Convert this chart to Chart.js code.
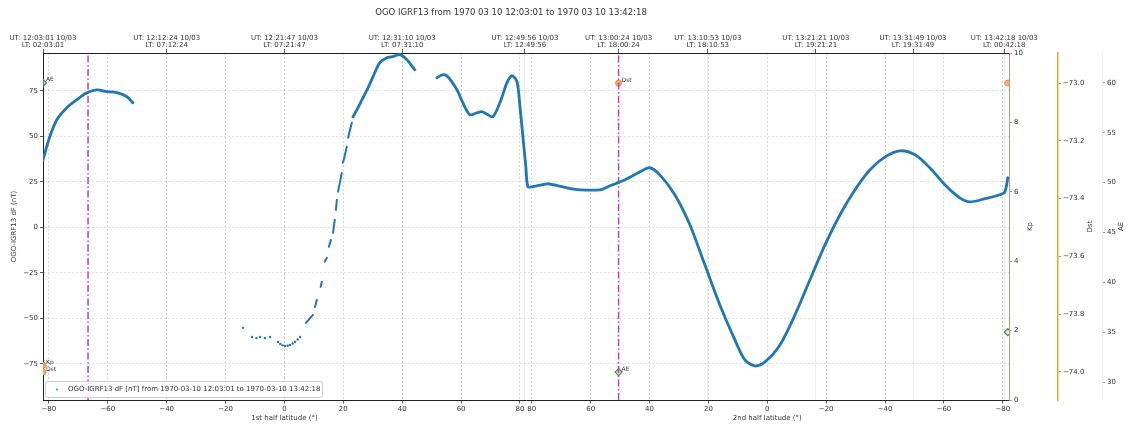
<!DOCTYPE html>
<html>
<head>
<meta charset="utf-8">
<script src="https://cdn.jsdelivr.net/npm/chart.js@4.4.1/dist/chart.umd.min.js"></script>
<style>
  html, body { margin: 0; padding: 0; background: #ffffff; }
  #wrap { width: 1133px; height: 426px; }
</style>
</head>
<body>
<div id="wrap"><canvas id="c" width="1133" height="426"></canvas></div>
<script>
// ---- text ----
const TITLE = 'OGO IGRF13 from 1970 03 10 12:03:01 to 1970 03 10 13:42:18';
const LEGEND_LABEL = 'OGO-IGRF13 dF [nT] from 1970-03-10 12:03:01 to 1970-03-10 13:42:18';
const Y_TITLE = 'OGO-IGRF13 dF (nT)';
const X_TITLE_1 = '1st half latitude (\u00b0)';
const X_TITLE_2 = '2nd half latitude (\u00b0)';

// Orbit position along the pass: on the first half it equals the latitude,
// on the second half it is 164 - latitude (the pass folds back at the pole).
const POS_MIN = -82.0;
const POS_MAX = 246.1;

// ---- dF samples (position, nT) ----
// first arc, southern high latitudes
const pos1 = [-82.0, -79.7, -77.3, -73.9, -70.5, -67.1, -63.7, -60.3, -56.9, -53.5, -51.5];
const df1  = [ 37.1,  49.7,  59.1,  65.7,  70.1,  73.9,  75.5,  74.5,  73.9,  71.7,  68.4];

// isolated samples near the equator
const pos2 = [-14.1, -11.0, -9.5, -8.3, -6.6, -4.9, -2.2, -1.4, -0.6, 0.2, 1.1, 1.9, 2.8, 3.6, 4.5, 5.3];
const df2  = [-55.2, -60.2, -60.8, -60.2, -60.8, -60.2, -62.9, -64.0, -64.8, -65.1, -65.0, -64.6, -63.8, -62.9, -61.6, -60.2];

// broken track on the climb (null = data gap)
const pos3 = [7.3, 9.7, null, 10.4, 11.0, null, 12.3, 12.7, null, 13.7, 14.4, null, 15.1, 15.8, null, 16.5, 17.1, null, 17.5, 17.8, null, 18.2, 19.5, null, 19.9, 21.2, null, 21.6, 22.9];
const df3  = [-52.5, -48.1, null, -43.7, -39.8, null, -32.7, -29.9, null, -18.9, -16.8, null, -10.7, -6.9, null, -3.0, 4.1, null, 9.6, 15.1, null, 19.5, 29.9, null, 35.4, 44.2, null, 49.2, 57.4];

// continuous track up to the northern maximum
const pos4 = [23.3, 25.0, 26.7, 28.4, 30.1, 32.4, 34.8, 36.8, 39.2, 41.6, 44.3];
const df4  = [60.7, 65.7, 71.2, 76.6, 82.7, 90.4, 93.1, 93.7, 94.8, 92.0, 86.5];

// polar crossing and the whole second half
const pos5 = [51.8, 53.8, 55.5, 58.6, 60.6, 63.0, 65.4, 67.1, 69.1, 70.8, 73.2, 75.6, 77.3, 79.0, 80.0, 81.0, 82.0, 82.7, 84.4, 89.2, 91.2, 96.0, 100.4, 107.2, 110.6, 115.7, 120.8, 124.1, 127.5, 132.6, 137.7, 142.8, 147.9, 153.0, 156.4, 159.8, 163.2, 168.3, 173.4, 178.5, 183.6, 188.7, 193.8, 198.9, 204.0, 209.1, 214.2, 219.2, 224.3, 229.4, 232.8, 237.9, 243.0, 244.7, 245.7];
const df5  = [82.1, 83.8, 82.7, 75.5, 68.4, 61.8, 62.9, 63.5, 61.8, 60.7, 68.4, 79.4, 83.2, 79.9, 66.2, 49.7, 33.2, 22.3, 22.3, 23.9, 23.4, 21.7, 20.6, 20.6, 22.8, 26.1, 30.5, 32.7, 28.8, 17.9, 1.4, -20.6, -42.6, -61.8, -72.8, -76.1, -73.9, -64.6, -48.1, -28.8, -9.6, 6.9, 20.6, 31.6, 38.7, 42.0, 39.8, 32.7, 23.4, 16.2, 14.0, 15.7, 17.9, 19.5, 27.2];

// ---- geomagnetic indices at the pass start, 13:00 and pass end ----
const kpPos  = [-82.0];
const kpVal  = [1.0];
const dstPos = [-82.0, 113.5, 245.7];
const dstVal = [-74.0, -73.0, -73.0];
const aePos  = [-82.0, 113.5, 245.7];
const aeVal  = [60, 31, 35];

// reference markers (dash-dot verticals)
const markPos = [-66.7, 113.5];

// ---- axis ticks ----
const bottomTickPos = [-80, -60, -40, -20, 0, 20, 40, 60, 80, 84, 104, 124, 144, 164, 184, 204, 224, 244];
const bottomTickLat = [-80, -60, -40, -20, 0, 20, 40, 60, 80, 80, 60, 40, 20, 0, -20, -40, -60, -80];
const topTickPos = [-82.0, -40.0, 0.0, 40.0, 81.7, 113.5, 143.8, 180.5, 213.5, 244.5];
const topTickUT = ['12:03:01', '12:12:24', '12:21:47', '12:31:10', '12:49:56', '13:00:24', '13:10:53', '13:21:21', '13:31:49', '13:42:18'];
const topTickLT = ['02:03:01', '07:12:24', '07:21:47', '07:31:10', '12:49:56', '18:00:24', '18:10:53', '19:21:21', '19:31:49', '00:42:18'];
const topTickDate = '10/03';
const dfTicks  = [-75, -50, -25, 0, 25, 50, 75];
const kpTicks  = [0, 2, 4, 6, 8, 10];
const dstTicks = [-74.0, -73.8, -73.6, -73.4, -73.2, -73.0];
const aeTicks  = [30, 35, 40, 45, 50, 55, 60];

const FONT = '"DejaVu Sans", sans-serif';
const INK = '#333333';
const BLUE = '#1f77b4';
const minus = s => String(s).replace('-', '\u2212');
const pts = (xs, ys) => xs.map((x, i) => ({ x: x, y: ys[i] }));
const fixTicks = list => scale => { scale.ticks = list.map(v => ({ value: v })); };

const trackLine = (label, xs, ys, width) => ({
  label: label, type: 'line', data: pts(xs, ys), yAxisID: 'y', spanGaps: false,
  borderColor: BLUE, borderWidth: width, pointRadius: 0, tension: 0.3, borderCapStyle: 'round'
});

const datasets = [
  trackLine('dF south', pos1, df1, 2.8),
  { label: 'dF equator', type: 'scatter', data: pts(pos2, df2), yAxisID: 'y',
    backgroundColor: BLUE, borderColor: BLUE, pointRadius: 1.2, borderWidth: 0 },
  trackLine('dF climb', pos3, df3, 2.0),
  trackLine('dF north', pos4, df4, 2.8),
  trackLine('dF second half', pos5, df5, 2.8)
];
markPos.forEach((p, i) => datasets.push({
  label: 'mark ' + i, type: 'line', data: [{ x: p, y: 0 }, { x: p, y: 10 }], yAxisID: 'kp',
  borderColor: '#c23bc4', borderWidth: 1.5, borderDash: [7, 2.5, 1.5, 2.5], pointRadius: 0
}));
datasets.push({ label: 'Kp', tag: 'Kp', type: 'scatter', data: pts(kpPos, kpVal), yAxisID: 'kp',
  pointStyle: 'circle', pointRadius: 3, backgroundColor: '#f0a868', borderColor: '#e07a3a', borderWidth: 1 });
datasets.push({ label: 'Dst', tag: 'Dst', type: 'scatter', data: pts(dstPos, dstVal), yAxisID: 'dst',
  pointStyle: 'circle', pointRadius: 3, backgroundColor: '#f5b070', borderColor: '#ec8a40', borderWidth: 1 });
datasets.push({ label: 'AE', tag: 'AE', type: 'scatter', data: pts(aePos, aeVal), yAxisID: 'ae',
  pointStyle: 'rectRot', pointRadius: 3.5, backgroundColor: 'rgba(170,215,170,0.5)', borderColor: '#3f8f3f', borderWidth: 1.2 });

// titles, legend box and index labels drawn over the chart
const overlay = {
  id: 'overlay',
  afterDraw(chart) {
    const { ctx, chartArea: a, scales } = chart;
    const midY = (a.top + a.bottom) / 2;
    ctx.save();
    ctx.fillStyle = INK;
    ctx.textAlign = 'center';
    ctx.textBaseline = 'middle';
    ctx.font = '8.5px ' + FONT;
    ctx.fillText(TITLE, 511, 13);

    ctx.font = '7px ' + FONT;
    ctx.fillText(X_TITLE_1, scales.x.getPixelForValue(0), 418);
    ctx.fillText(X_TITLE_2, scales.x.getPixelForValue(164), 418);

    const vtitle = (text, x) => {
      ctx.save(); ctx.translate(x, midY); ctx.rotate(-Math.PI / 2);
      ctx.fillText(text, 0, 0); ctx.restore();
    };
    vtitle(Y_TITLE, 14);
    vtitle('Kp', scales.kp.left + 21);
    vtitle('Dst', scales.dst.left + 32);
    vtitle('AE', scales.ae.left + 19);

    // legend box
    const lx = a.left + 2, ly = a.bottom - 19, lw = 277, lh = 16;
    ctx.fillStyle = 'rgba(255,255,255,0.85)';
    ctx.strokeStyle = '#d0d0d0';
    ctx.lineWidth = 1;
    ctx.beginPath();
    ctx.roundRect(lx + 0.5, ly + 0.5, lw, lh, 2);
    ctx.fill(); ctx.stroke();
    ctx.fillStyle = BLUE;
    ctx.beginPath(); ctx.arc(lx + 12, ly + 8.5, 0.9, 0, Math.PI * 2); ctx.fill();
    ctx.fillStyle = INK;
    ctx.textAlign = 'left';
    ctx.font = '7px ' + FONT;
    ctx.fillText(LEGEND_LABEL, lx + 23, ly + 8.5);

    // index labels beside the first two samples of each index
    ctx.font = '6px ' + FONT;
    chart.data.datasets.forEach((ds, di) => {
      if (!ds.tag) return;
      const meta = chart.getDatasetMeta(di);
      meta.data.slice(0, 2).forEach(el => {
        ctx.fillText(ds.tag, el.x + 3, el.y - 3);
      });
    });
    ctx.restore();
  }
};

const tickFont = { family: FONT, size: 7 };

new Chart(document.getElementById('c'), {
  data: { datasets: datasets },
  options: {
    responsive: false,
    animation: false,
    events: [],
    layout: { padding: 0 },
    plugins: { legend: { display: false }, tooltip: { enabled: false }, title: { display: false } },
    scales: {
      x: {
        type: 'linear', position: 'bottom', min: POS_MIN, max: POS_MAX,
        afterBuildTicks: fixTicks(bottomTickPos),
        afterFit: s => { s.height = 26; },
        ticks: { font: tickFont, color: INK, padding: 1, maxRotation: 0, autoSkip: false,
          callback: (v) => minus(bottomTickLat[bottomTickPos.indexOf(v)]) },
        grid: { color: 'rgba(0,0,0,0.2)', tickColor: '#333', tickLength: 3.5, lineWidth: 0.8 },
        border: { display: true, color: '#222', width: 1, dash: [2, 2] }
      },
      xTop: {
        type: 'linear', position: 'top', min: POS_MIN, max: POS_MAX,
        afterBuildTicks: fixTicks(topTickPos),
        afterFit: s => { s.height = 53; },
        ticks: { font: { family: FONT, size: 7, lineHeight: 1.0 }, color: INK, padding: 0.5, maxRotation: 0, autoSkip: false,
          callback: (v) => { const i = topTickPos.indexOf(v); return ['UT: ' + topTickUT[i] + ' ' + topTickDate, 'LT: ' + topTickLT[i]]; } },
        grid: { color: 'rgba(0,0,0,0.08)', tickColor: '#333', tickLength: 4, lineWidth: 0.8 },
        border: { display: true, color: '#222', width: 1 }
      },
      y: {
        type: 'linear', position: 'left', min: -94.8, max: 95.7,
        afterBuildTicks: fixTicks(dfTicks),
        afterFit: s => { s.width = 43; },
        ticks: { font: tickFont, color: INK, padding: 2, callback: v => minus(v) },
        grid: { color: 'rgba(0,0,0,0.15)', tickColor: '#333', tickLength: 3, lineWidth: 0.8 },
        border: { display: true, color: '#222', width: 1, dash: [2, 2] }
      },
      kp: {
        type: 'linear', position: 'right', weight: 1, min: 0, max: 10,
        afterBuildTicks: fixTicks(kpTicks),
        afterFit: s => { s.width = 49; },
        ticks: { font: tickFont, color: INK, padding: 2 },
        grid: { drawOnChartArea: false, tickColor: '#a89a90', tickLength: 3 },
        border: { display: true, color: '#b09c90', width: 1 }
      },
      dst: {
        type: 'linear', position: 'right', weight: 2, min: -74.097, max: -72.896,
        afterBuildTicks: fixTicks(dstTicks),
        afterFit: s => { s.width = 44; },
        ticks: { font: tickFont, color: INK, padding: 2, callback: v => minus(v.toFixed(1)) },
        grid: { drawOnChartArea: false, tickColor: '#999', tickLength: 3 },
        border: { display: true, color: '#dcaa22', width: 1.5 }
      },
      ae: {
        type: 'linear', position: 'right', weight: 3, min: 28.2, max: 63.0,
        afterBuildTicks: fixTicks(aeTicks),
        afterFit: s => { s.width = 31; },
        ticks: { font: tickFont, color: INK, padding: 2 },
        grid: { drawOnChartArea: false, tickColor: '#999', tickLength: 3 },
        border: { display: true, color: 'rgba(0,0,0,0.06)', width: 1 }
      }
    }
  },
  plugins: [overlay]
});
</script>
</body>
</html>
